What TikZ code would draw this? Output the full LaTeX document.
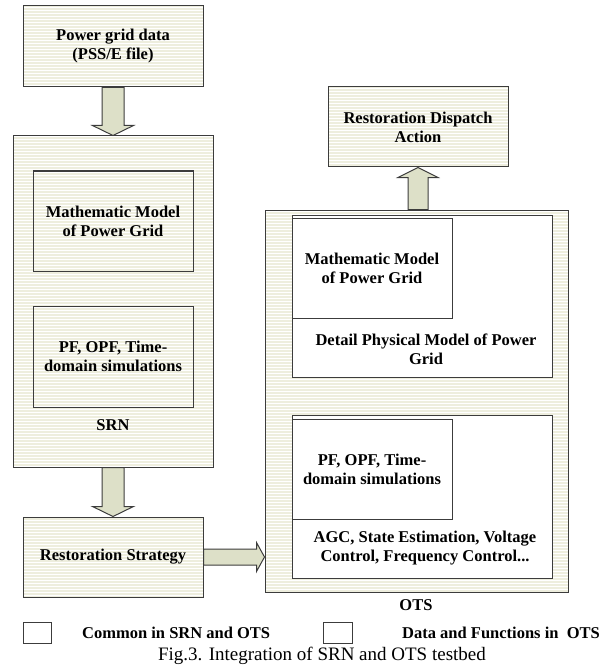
\documentclass[tikz,border=0pt]{standalone}
\usepackage{fontspec}
\setmainfont{Liberation Serif}
\usetikzlibrary{calc,patterns}
\definecolor{boxfill}{RGB}{238,238,222}
\definecolor{arrowfill}{RGB}{221,224,200}
\definecolor{edge}{RGB}{60,60,60}
\newcommand{\arrowdown}[2]{\draw[blockarrow] let \p1=(#1.south), \p2=(#2.north) in (\x1-11pt,\y1) -- (\x1+11pt,\y1) -- (\x1+11pt,\y2+10pt) -- (\x1+20.5pt,\y2+10pt) -- (\x1,\y2) -- (\x1-20.5pt,\y2+10pt) -- (\x1-11pt,\y2+10pt) -- cycle;}
\newcommand{\arrowup}[2]{\draw[blockarrow] let \p1=(#1.north), \p2=(#2.south) in (\x2-10pt,\y1) -- (\x2+10pt,\y1) -- (\x2+10pt,\y2-10pt) -- (\x2+20pt,\y2-10pt) -- (\x2,\y2) -- (\x2-20pt,\y2-10pt) -- (\x2-10pt,\y2-10pt) -- cycle;}
\newcommand{\arrowright}[2]{\draw[blockarrow] let \p1=(#1.east), \p2=(#2.west) in (\x1,\y1+8pt) -- (\x2-8pt,\y1+8pt) -- (\x2-8pt,\y1+14.5pt) -- (\x2,\y1) -- (\x2-8pt,\y1-14.5pt) -- (\x2-8pt,\y1-8pt) -- (\x1,\y1-8pt) -- cycle;}

\begin{document}
\begin{tikzpicture}[x=1pt,y=-1pt,
	box/.style={draw=edge,line width=1pt,preaction={fill=boxfill},pattern=horizontal lines,pattern color=white,align=center,inner sep=0pt,font=\bfseries\fontsize{16.5}{19}\selectfont},
	plain/.style={draw=edge,line width=1pt,fill=white,align=center,inner sep=0pt,font=\bfseries\fontsize{16.5}{19}\selectfont},
	txt/.style={align=center,inner sep=0pt,font=\bfseries\fontsize{16.5}{19}\selectfont},
	blockarrow/.style={draw=edge,line width=1pt,fill=arrowfill,line join=miter}]
	\useasboundingbox (0,0) rectangle (610,671);
	\node[box,minimum width=180pt,minimum height=81pt] (data) at (113,46.5) {Power grid data\\(PSS/E file)};
	\node[box,minimum width=200pt,minimum height=331pt] (srn) at (113,301.5) {};
	\node[box,minimum width=160pt,minimum height=100pt] (srnmath) at (113,221) {Mathematic Model\\of Power Grid};
	\node[box,minimum width=160pt,minimum height=101pt] (srnpf) at (113,356.5) {PF, OPF, Time-\\domain simulations};
	\node[txt] (srnlabel) at (113,425) {SRN};
	\node[box,minimum width=180pt,minimum height=80pt] (strat) at (113,557) {Restoration Strategy};
	\node[box,minimum width=303pt,minimum height=382pt] (ots) at (416.5,401) {};
	\node[plain,minimum width=260pt,minimum height=162pt] (otsmodel) at (422,296) {};
	\node[plain,minimum width=160pt,minimum height=100pt] (otsmath) at (372,268) {Mathematic Model\\of Power Grid};
	\node[txt] (detaillabel) at (426,349) {Detail Physical Model of Power\\Grid};
	\node[plain,minimum width=260pt,minimum height=163pt] (otsfunc) at (422,496.5) {};
	\node[plain,minimum width=160pt,minimum height=100pt] (otspf) at (372,469) {PF, OPF, Time-\\domain simulations};
	\node[txt] (agclabel) at (425,548) {AGC, State Estimation, Voltage\\Control, Frequency Control...};
	\node[txt] (otslabel) at (416,605) {OTS};
	\node[box,minimum width=180pt,minimum height=80pt] (dispatch) at (418,127) {Restoration Dispatch\\Action};
	\arrowdown{data}{srn}
	\arrowdown{srn}{strat}
	\arrowup{ots}{dispatch}
	\arrowright{strat}{ots}
	\node[plain,minimum width=28pt,minimum height=21pt] (key1) at (37,632.5) {};
	\node[txt,anchor=west] (keytext1) at (82,632.5) {Common in SRN and OTS};
	\node[plain,minimum width=29pt,minimum height=21pt] (key2) at (337.5,632.5) {};
	\node[txt,anchor=west] (keytext2) at (402,632.5) {Data and Functions in\ \ OTS};
	\node[inner sep=0pt,font=\fontsize{19}{22}\selectfont] (caption) at (322,656) {Fig.3. Integration of SRN and OTS testbed};
\end{tikzpicture}
\end{document}
